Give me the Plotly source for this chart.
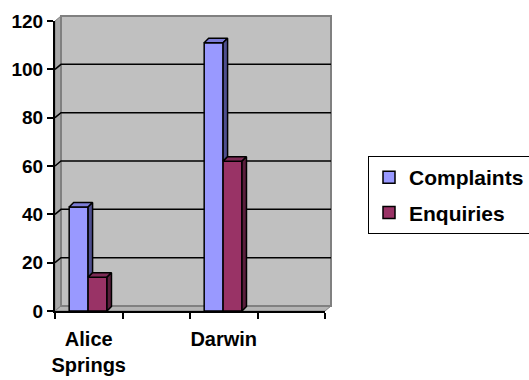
import plotly.graph_objects as go

# Chart data
categories = ["Alice<br>Springs", "", "Darwin", ""]
complaints = [43, None, 111, None]
enquiries = [14, None, 62, None]
y_ticks = [0, 20, 40, 60, 80, 100, 120]

# Canvas and plot-area geometry (pixels)
W, H = 529, 380
M_L, M_R, M_T, M_B = 55, 204, 21, 69
plot_w = W - M_L - M_R
plot_h = H - M_T - M_B
X_MAX = len(categories)
Y_MAX = y_ticks[-1]

ux = X_MAX / plot_w   # data units per pixel, x
uy = Y_MAX / plot_h   # data units per pixel, y

# 3-D depth offsets
WALL_DX, WALL_DY = 6 * ux, 5 * uy
BAR_DX, BAR_DY = 4.5 * ux, 4.5 * uy
BAR_W = 0.28

FONT = dict(family="Liberation Sans, Arial, sans-serif", color="black", weight="bold")

# name, values, offset, front, top, side
series = [
    ("Complaints", complaints, -0.29, "#9999FF", "#7C7CD6", "#4F4F8F"),
    ("Enquiries", enquiries, -0.01, "#993366", "#7D2A55", "#5A1E3C"),
]


def px(x):
    return x / X_MAX


def py(y):
    return y / Y_MAX


def path(points):
    return "M " + " L ".join(f"{px(x)},{py(y)}" for x, y in points) + " Z"


shapes = [
    # left side wall
    dict(type="path", xref="paper", yref="paper", layer="below",
         path=path([(0, 0), (WALL_DX, WALL_DY), (WALL_DX, Y_MAX + WALL_DY), (0, Y_MAX)]),
         fillcolor="#A8A8A8", line=dict(color="#808080", width=1)),
    # floor
    dict(type="path", xref="paper", yref="paper", layer="below",
         path=path([(0, 0), (X_MAX, 0), (X_MAX + WALL_DX, WALL_DY), (WALL_DX, WALL_DY)]),
         fillcolor="#B4B4B4", line=dict(color="#808080", width=1)),
    # back wall
    dict(type="rect", xref="paper", yref="paper", layer="below",
         x0=px(WALL_DX), y0=py(WALL_DY), x1=px(X_MAX + WALL_DX), y1=py(Y_MAX + WALL_DY),
         fillcolor="#C0C0C0", line=dict(color="#808080", width=2)),
]

# gridlines: diagonal across the side wall, then along the back wall
for v in y_ticks[1:-1]:
    shapes.append(dict(
        type="path", xref="paper", yref="paper", layer="below",
        path=f"M {px(0)},{py(v)} L {px(WALL_DX)},{py(v + WALL_DY)} L {px(X_MAX + WALL_DX)},{py(v + WALL_DY)}",
        line=dict(color="black", width=1.5)))

fig = go.Figure()

# front faces
for i, (name, vals, off, front, top, side) in enumerate(series):
    fig.add_trace(go.Bar(
        name=name, x=[k + 0.5 for k in range(X_MAX)], y=vals,
        offset=off, width=BAR_W,
        marker=dict(color=front, line=dict(color="black", width=1.5)),
        legendgroup=name, showlegend=True,
    ))

# top and side faces
for i, (name, vals, off, front, top, side) in enumerate(series):
    nxt = series[i + 1][1] if i + 1 < len(series) else None
    for k, v in enumerate(vals):
        if v is None:
            continue
        x0 = k + 0.5 + off
        x1 = x0 + BAR_W
        base = 0
        if nxt is not None and nxt[k] is not None:
            base = min(v, nxt[k])
        tx = [x0, x0 + BAR_DX, x1 + BAR_DX, x1, x0]
        ty = [v, v + BAR_DY, v + BAR_DY, v, v]
        fig.add_trace(go.Scatter(x=tx, y=ty, mode="lines", fill="toself",
                                 fillcolor=top, line=dict(color="black", width=1.5),
                                 showlegend=False, hoverinfo="skip"))
        if v > base:
            sx = [x1, x1 + BAR_DX, x1 + BAR_DX, x1, x1]
            sy = [base, base + BAR_DY, v + BAR_DY, v, base]
            fig.add_trace(go.Scatter(x=sx, y=sy, mode="lines", fill="toself",
                                     fillcolor=side, line=dict(color="black", width=1.5),
                                     showlegend=False, hoverinfo="skip"))

fig.update_layout(
    width=W, height=H,
    margin=dict(l=M_L, r=M_R, t=M_T, b=M_B, pad=0, autoexpand=False),
    paper_bgcolor="white", plot_bgcolor="rgba(0,0,0,0)",
    font=FONT,
    shapes=shapes,
    showlegend=True,
    legend=dict(
        xref="container", yref="container",
        x=368 / W, y=1 - 156 / H,
        xanchor="left", yanchor="top",
        bordercolor="black", borderwidth=1, bgcolor="white",
        font=dict(size=21, **FONT), traceorder="grouped", tracegroupgap=5,
        entrywidth=210, entrywidthmode="pixels",
    ),
    xaxis=dict(
        range=[0, X_MAX], fixedrange=True, automargin=False,
        tickvals=[k + 0.5 for k in range(X_MAX)], ticktext=categories,
        ticks="", showgrid=False, zeroline=False,
        showline=True, linecolor="black", linewidth=2,
        tickfont=dict(size=20, **FONT), ticklabelstandoff=9,
        minor=dict(tickvals=list(range(X_MAX + 1)), ticks="outside", ticklen=6,
                   tickwidth=2, tickcolor="black", showgrid=False),
    ),
    yaxis=dict(
        range=[0, Y_MAX], fixedrange=True, automargin=False,
        tickvals=y_ticks, ticks="outside", ticklen=6, tickwidth=2, tickcolor="black",
        showgrid=False, zeroline=False,
        showline=True, linecolor="black", linewidth=2,
        tickfont=dict(size=19, **FONT),
    ),
)

fig.write_html("out.html")
